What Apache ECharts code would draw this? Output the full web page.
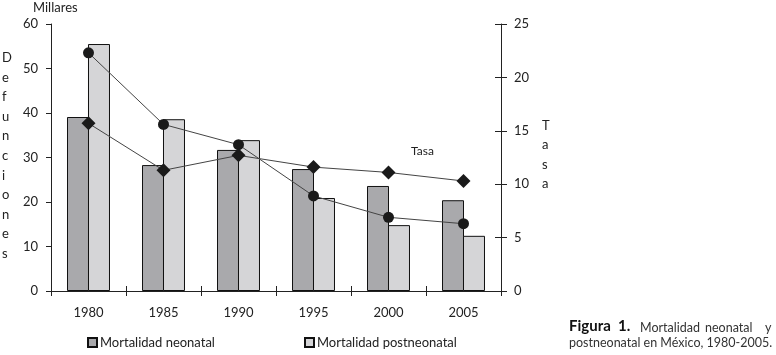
<!DOCTYPE html>
<html>
<head>
<meta charset="utf-8">
<script src="https://cdn.jsdelivr.net/npm/echarts@6/dist/echarts.min.js"></script>
<style>
  html, body { margin: 0; padding: 0; background: #fff; }
  #chart { width: 776px; height: 355px; }
</style>
</head>
<body>
<div id="chart"></div>
<script>
// data
const years = ['1980', '1985', '1990', '1995', '2000', '2005'];
const neonatal = [39.1, 28.3, 31.7, 27.4, 23.6, 20.4];       // miles de defunciones
const postneonatal = [55.5, 38.6, 33.9, 20.9, 14.8, 12.4];   // miles de defunciones
const tasaCircle = [22.3, 15.6, 13.7, 8.9, 6.9, 6.3];        // tasa (eje derecho)
const tasaDiamond = [15.7, 11.3, 12.7, 11.6, 11.1, 10.3];    // tasa (eje derecho)

const FONT = 'Lato';
const INK = '#222';

const myChart = echarts.init(document.getElementById('chart'));

const hiddenAxis = {
    axisLine: { show: false },
    axisLabel: { show: false },
    splitLine: { show: false }
};

const legendText = { fontFamily: FONT, fontSize: 13, color: INK, padding: [0, 0, 0, -2] };

const option = {
    animation: false,
    backgroundColor: '#fff',
    textStyle: { fontFamily: FONT, color: INK },
    // 450px wide plot -> 75px per year
    grid: { left: 51, right: 275, top: 24, bottom: 64 },
    legend: [
        {
            data: ['Mortalidad neonatal'],
            left: 82, top: 331,
            icon: 'rect', itemWidth: 9, itemHeight: 9, itemGap: 4,
            textStyle: legendText
        },
        {
            data: ['Mortalidad postneonatal'],
            left: 299, top: 331,
            icon: 'rect', itemWidth: 9, itemHeight: 9, itemGap: 4,
            textStyle: legendText
        }
    ],
    xAxis: [
        {
            type: 'category',
            data: years,
            axisLine: { lineStyle: { color: INK, width: 1 } },
            axisTick: { show: true, length: 5, lineStyle: { color: INK } },
            axisLabel: { fontSize: 13, color: INK, margin: 15, fontFamily: FONT }
        },
        Object.assign({
            type: 'category',
            data: years,
            position: 'bottom',
            axisTick: { show: true, inside: true, length: 5, lineStyle: { color: INK } }
        }, hiddenAxis)
    ],
    yAxis: [
        {
            type: 'value',
            min: 0, max: 60, interval: 10,
            position: 'left',
            axisLine: { show: true, lineStyle: { color: INK } },
            axisTick: { show: true, length: 5, lineStyle: { color: INK } },
            axisLabel: { fontSize: 13, color: INK, margin: 13, fontFamily: FONT },
            splitLine: { show: false }
        },
        {
            type: 'value',
            min: 0, max: 25, interval: 5,
            position: 'right',
            axisLine: { show: true, lineStyle: { color: INK } },
            axisTick: { show: true, length: 6, lineStyle: { color: INK } },
            axisLabel: { fontSize: 13, color: INK, margin: 13, fontFamily: FONT },
            splitLine: { show: false }
        },
        Object.assign({
            type: 'value', min: 0, max: 25, interval: 5, position: 'right',
            axisTick: { show: true, inside: true, length: 6, lineStyle: { color: INK } }
        }, hiddenAxis)
    ],
    series: [
        {
            name: 'Mortalidad neonatal',
            type: 'bar',
            data: neonatal,
            barWidth: 22,
            barGap: '-4.6%',   // overlap one pixel so the shared edge is a single line
            itemStyle: { color: '#a9a9ac', borderColor: '#111', borderWidth: 1 }
        },
        {
            name: 'Mortalidad postneonatal',
            type: 'bar',
            data: postneonatal,
            barWidth: 22,
            barGap: '-4.6%',
            itemStyle: { color: '#d5d5d7', borderColor: '#111', borderWidth: 1 }
        },
        {
            name: 'Tasa postneonatal',
            type: 'line',
            yAxisIndex: 1,
            data: tasaCircle,
            symbol: 'circle',
            symbolSize: 11,
            lineStyle: { color: '#444', width: 1 },
            itemStyle: { color: '#1a1a1a' },
            z: 5
        },
        {
            name: 'Tasa neonatal',
            type: 'line',
            yAxisIndex: 1,
            data: tasaDiamond,
            symbol: 'diamond',
            symbolSize: 14,
            lineStyle: { color: '#444', width: 1 },
            itemStyle: { color: '#1a1a1a' },
            z: 5
        }
    ],
    graphic: [
        {
            type: 'text', left: 33, top: 1,
            style: { text: 'Millares', font: '13px ' + FONT, fill: INK }
        },
        {
            type: 'text', left: 2, top: 48,
            style: {
                text: 'Defunciones'.split('').join('\n'),
                font: '13px ' + FONT, fill: INK,
                lineHeight: 19.6, align: 'center', width: 12
            }
        },
        {
            type: 'text', left: 542, top: 116,
            style: {
                text: 'Tasa'.split('').join('\n'),
                font: '13px ' + FONT, fill: INK,
                lineHeight: 19.5, align: 'center', width: 12
            }
        },
        {
            type: 'text', left: 411, top: 145,
            style: { text: 'Tasa', font: '12px ' + FONT, fill: INK }
        },
        // caption, first line justified like the original
        {
            type: 'text', left: 569, top: 319,
            style: { text: 'Figura  1.', font: 'bold 15px ' + FONT, fill: '#111' }
        },
        {
            type: 'text', left: 640, top: 321,
            style: { text: 'Mortalidad', font: '12.5px ' + FONT, fill: '#333' }
        },
        {
            type: 'text', left: 705, top: 321,
            style: { text: 'neonatal', font: '12.5px ' + FONT, fill: '#333' }
        },
        {
            type: 'text', left: 765, top: 321,
            style: { text: 'y', font: '12.5px ' + FONT, fill: '#333' }
        },
        {
            type: 'text', left: 569, top: 336,
            style: { text: 'postneonatal en México, 1980-2005.', font: '12.5px ' + FONT, fill: '#333' }
        }
    ]
};

myChart.setOption(option);
</script>
</body>
</html>
